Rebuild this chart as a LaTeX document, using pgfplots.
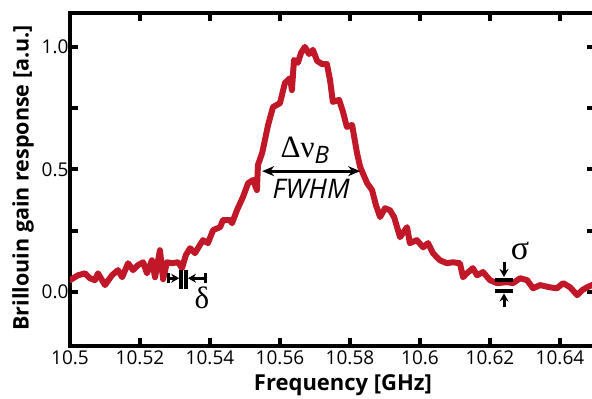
\documentclass[border=0pt]{standalone}
\usepackage{fontspec}
\setmainfont{Open Sans}
\newfontfamily\greekserif{Liberation Serif}
\usepackage{pgfplots}
\pgfplotsset{compat=1.18}
\usetikzlibrary{calc,arrows.meta}
\definecolor{curvered}{RGB}{192,24,40}

\pgfplotstableread{
x y
10.5000 0.049
10.5023 0.069
10.5043 0.077
10.5057 0.057
10.5071 0.049
10.5080 0.077
10.5100 0.029
10.5120 0.069
10.5137 0.090
10.5149 0.061
10.5166 0.118
10.5180 0.090
10.5194 0.110
10.5209 0.122
10.5220 0.077
10.5234 0.130
10.5243 0.061
10.5257 0.171
10.5266 0.053
10.5277 0.122
10.5291 0.118
10.5309 0.122
10.5320 0.098
10.5331 0.151
10.5343 0.179
10.5357 0.159
10.5371 0.192
10.5380 0.212
10.5394 0.200
10.5409 0.253
10.5429 0.265
10.5437 0.294
10.5457 0.294
10.5463 0.281
10.5477 0.334
10.5494 0.387
10.5509 0.444
10.5523 0.457
10.5534 0.416
10.5537 0.518
10.5549 0.567
10.5557 0.620
10.5566 0.681
10.5580 0.754
10.5600 0.770
10.5614 0.852
10.5629 0.872
10.5634 0.823
10.5640 0.946
10.5651 0.934
10.5660 0.974
10.5671 0.999
10.5683 0.970
10.5694 0.987
10.5706 0.942
10.5720 0.929
10.5734 0.929
10.5743 0.864
10.5751 0.775
10.5769 0.783
10.5780 0.734
10.5791 0.673
10.5806 0.681
10.5820 0.567
10.5829 0.510
10.5849 0.444
10.5863 0.416
10.5874 0.355
10.5886 0.306
10.5900 0.342
10.5914 0.334
10.5926 0.306
10.5943 0.224
10.5963 0.265
10.5971 0.200
10.5991 0.212
10.6009 0.183
10.6023 0.200
10.6037 0.159
10.6057 0.130
10.6077 0.118
10.6094 0.122
10.6114 0.118
10.6123 0.061
10.6134 0.077
10.6151 0.098
10.6163 0.069
10.6180 0.082
10.6200 0.049
10.6220 0.037
10.6249 0.041
10.6266 0.037
10.6286 0.057
10.6306 0.049
10.6323 0.016
10.6343 0.029
10.6371 0.020
10.6391 0.016
10.6409 0.037
10.6429 0.020
10.6449 -0.012
10.6463 0.008
10.6477 0.020
10.6491 0.029
10.6500 0.030
}\gaindata

\begin{document}
\begin{tikzpicture}
\begin{axis}[
  scale only axis,
  width=525pt, height=333pt,
  xmin=10.5, xmax=10.65, ymin=-0.219, ymax=1.137,
  xtick={10.5,10.52,10.54,10.56,10.58,10.6,10.62,10.64},
  xticklabels={10.5,10.52,10.54,10.56,10.58,10.6,10.62,10.64},
  ytick={0,0.5,1},
  yticklabels={0.0,0.5,1.0},
  minor ytick={0.25,0.75},
  major tick length=8pt, minor tick length=8pt,
  every tick/.style={black, line width=4pt},
  axis line style={line width=3.5pt},
  tick label style={font=\fontsize{19}{22}\selectfont},
  xticklabel style={yshift=-1pt},
  yticklabel style={xshift=2pt},
  /pgf/number format/assume math mode=true,
  every axis x label/.style={at={(axis description cs:0.52,-0.117)}, anchor=center},
  every axis y label/.style={at={(axis description cs:-0.0895,0.505)}, anchor=center, rotate=90},
  xlabel={\fontsize{22}{26}\selectfont\bfseries Frequency [GHz]},
  ylabel={\fontsize{21.5}{25}\selectfont\bfseries Brillouin gain response [a.u.]},
]
\addplot[curvered, line width=6pt, line join=round, line cap=round] table[x=x,y=y] {\gaindata};

% FWHM arrow
\draw[{Stealth[length=12pt,width=10pt]}-{Stealth[length=12pt,width=10pt]}, line width=3pt]
  (axis cs:10.5549,0.493) -- (axis cs:10.5829,0.493);
\node[anchor=base, inner sep=0pt] at (axis cs:10.5671,0.550)
  {\fontsize{31}{34}\selectfont\greekserif Δν\raisebox{-0.22em}{\fontsize{24}{26}\selectfont\rmfamily\itshape B}};
\node[anchor=base, inner sep=0pt] at (axis cs:10.5689,0.383)
  {\fontsize{27}{30}\selectfont\itshape FWHM};

% delta marker
\draw[line width=3.5pt] (axis cs:10.53170,0.092) -- (axis cs:10.53170,0.014);
\draw[line width=3.5pt] (axis cs:10.53320,0.092) -- (axis cs:10.53320,0.014);
\draw[{Bar[width=10pt]}-{Stealth[length=8pt,width=9pt]}, line width=3pt]
  (axis cs:10.52771,0.057) -- (axis cs:10.53120,0.057);
\draw[{Bar[width=10pt]}-{Stealth[length=8pt,width=9pt]}, line width=3pt]
  (axis cs:10.53914,0.057) -- (axis cs:10.53370,0.057);
\node[inner sep=0pt] at (axis cs:10.53771,-0.022) {\fontsize{31}{34}\selectfont\greekserif δ};

% sigma marker
\draw[line width=4pt] (axis cs:10.62143,0.051) -- (axis cs:10.62657,0.051);
\draw[line width=4pt] (axis cs:10.62143,0.006) -- (axis cs:10.62657,0.006);
\draw[-{Stealth[length=8pt,width=9pt]}, line width=3pt]
  (axis cs:10.6240,0.125) -- (axis cs:10.6240,0.062);
\draw[-{Stealth[length=8pt,width=9pt]}, line width=3pt]
  (axis cs:10.6240,-0.060) -- (axis cs:10.6240,-0.005);
\node[inner sep=0pt] at (axis cs:10.62857,0.168) {\fontsize{34}{36}\selectfont\greekserif σ};
\end{axis}
\pgfresetboundingbox
\path ($(current axis.south west)+(-70pt,-53pt)$) rectangle ($(current axis.south west)+(522pt,346pt)$);
\end{tikzpicture}
\end{document}
